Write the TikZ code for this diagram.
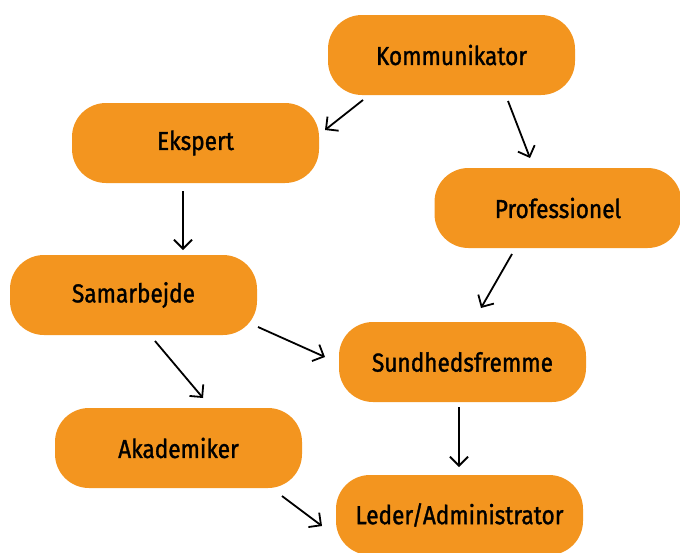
\documentclass[tikz,border=0pt]{standalone}
\usepackage{fontspec}
\setmainfont{Fira Sans}[FakeStretch=0.87,FakeBold=1.2]
\usetikzlibrary{arrows.meta}
\definecolor{boxor}{HTML}{F3951F}
\begin{document}
\begin{tikzpicture}[x=1pt,y=-1pt,
  box/.style={fill=boxor,rounded corners=34pt,minimum width=247pt,minimum height=80pt,inner sep=0pt,font=\fontsize{26}{30}\selectfont,text=black},
  arr/.style={line width=1.8pt,-{Straight Barb[length=9pt,width=18pt,line width=1.8pt]}}]
\useasboundingbox (0,0) rectangle (680,552);
\node[box] (komm) at (451.5,55) {Kommunikator};
\node[box] (eksp) at (195.5,143) {Ekspert};
\node[box] (prof) at (558,208) {Professionel};
\node[box] (sama) at (133.5,295) {Samarbejde};
\node[box] (sund) at (462.5,362) {Sundhedsfremme};
\node[box] (akad) at (178.5,448) {Akademiker};
\node[box] (lede) at (459.5,515) {Leder/Administrator};
\coordinate (k1) at (363,100); \coordinate (e1) at (325,130);
\coordinate (k2) at (508,101); \coordinate (p1) at (530,158);
\coordinate (e2) at (183,191); \coordinate (s1) at (183,250);
\coordinate (p2) at (512,254); \coordinate (u1) at (481,308);
\coordinate (s2) at (258,327); \coordinate (u2) at (325,357);
\coordinate (s3) at (155,341); \coordinate (a1) at (203,398);
\coordinate (u3) at (459,407); \coordinate (l1) at (459,467);
\coordinate (a2) at (282,496); \coordinate (l2) at (322,526);
\draw[arr] (k1) -- (e1);
\draw[arr] (k2) -- (p1);
\draw[arr] (e2) -- (s1);
\draw[arr] (p2) -- (u1);
\draw[arr] (s2) -- (u2);
\draw[arr] (s3) -- (a1);
\draw[arr] (u3) -- (l1);
\draw[arr] (a2) -- (l2);
\end{tikzpicture}
\end{document}
